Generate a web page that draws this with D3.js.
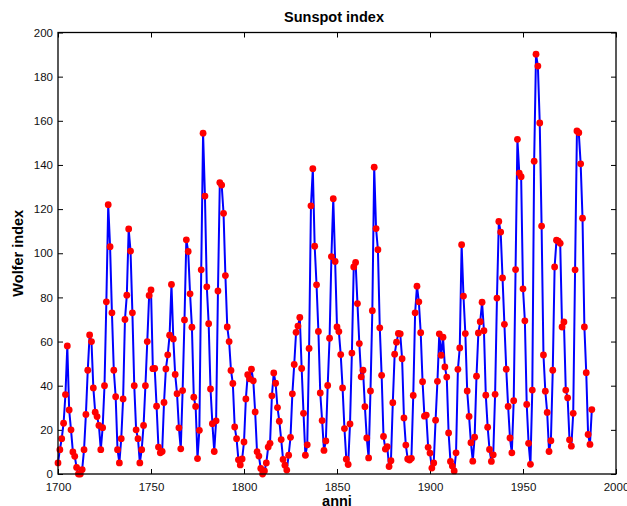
<!DOCTYPE html>
<html>
<head>
<meta charset="utf-8">
<script src="https://cdn.jsdelivr.net/npm/d3@7"></script>
<style>
  html, body { margin: 0; padding: 0; background: #fff; }
  svg { display: block; }
  text { font-family: "Liberation Sans", Arial, Helvetica, sans-serif; }
</style>
</head>
<body>
<svg id="chart" width="627" height="506"></svg>
<script>
// Yearly Wolfer sunspot numbers, 1700-1987
const startYear = 1700;
const wolfer = [
  5, 11, 16, 23, 36, 58, 29, 20, 10, 8,
  3, 0, 0, 2, 11, 27, 47, 63, 60, 39,
  28, 26, 22, 11, 21, 40, 78, 122, 103, 73,
  47, 35, 11, 5, 16, 34, 70, 81, 111, 101,
  73, 40, 20, 16, 5, 11, 22, 40, 60, 80.9,
  83.4, 47.7, 47.8, 30.7, 12.2, 9.6, 10.2, 32.4, 47.6, 54.0,
  62.9, 85.9, 61.2, 45.1, 36.4, 20.9, 11.4, 37.8, 69.8, 106.1,
  100.8, 81.6, 66.5, 34.8, 30.6, 7.0, 19.8, 92.5, 154.4, 125.9,
  84.8, 68.1, 38.5, 22.8, 10.2, 24.1, 82.9, 132.0, 130.9, 118.1,
  89.9, 66.6, 60.0, 46.9, 41.0, 21.3, 16.0, 6.4, 4.1, 6.8,
  14.5, 34.0, 45.0, 43.1, 47.5, 42.2, 28.1, 10.1, 8.1, 2.5,
  0.0, 1.4, 5.0, 12.2, 13.9, 35.4, 45.8, 41.1, 30.1, 23.9,
  15.6, 6.6, 4.0, 1.8, 8.5, 16.6, 36.3, 49.6, 64.2, 67.0,
  70.9, 47.8, 27.5, 8.5, 13.2, 56.9, 121.5, 138.3, 103.2, 85.7,
  64.6, 36.7, 24.2, 10.7, 15.0, 40.1, 61.5, 98.5, 124.7, 96.3,
  66.6, 64.5, 54.1, 39.0, 20.6, 6.7, 4.3, 22.7, 54.8, 93.8,
  95.8, 77.2, 59.1, 44.0, 47.0, 30.5, 16.3, 7.3, 37.6, 74.0,
  139.0, 111.2, 101.6, 66.2, 44.7, 17.0, 11.3, 12.4, 3.4, 6.0,
  32.3, 54.3, 59.7, 63.7, 63.5, 52.2, 25.4, 13.1, 6.8, 6.3,
  7.1, 35.6, 73.0, 85.1, 78.0, 64.0, 41.8, 26.2, 26.7, 12.1,
  9.5, 2.7, 5.0, 24.4, 42.0, 63.5, 53.8, 62.0, 48.5, 43.9,
  18.6, 5.7, 3.6, 1.4, 9.6, 47.4, 57.1, 103.9, 80.6, 63.6,
  37.6, 26.1, 14.2, 5.8, 16.7, 44.3, 63.9, 69.0, 77.8, 64.9,
  35.7, 21.2, 11.1, 5.7, 8.7, 36.1, 79.7, 114.4, 109.6, 88.8,
  67.8, 47.5, 30.6, 16.3, 9.6, 33.2, 92.6, 151.6, 136.3, 134.7,
  83.9, 69.4, 31.5, 13.9, 4.4, 38.0, 141.7, 190.2, 184.8, 159.0,
  112.3, 53.9, 37.5, 27.9, 10.2, 15.1, 47.0, 93.8, 105.9, 105.5,
  104.5, 66.6, 68.9, 38.0, 34.5, 15.5, 12.6, 27.5, 92.5, 155.4,
  154.6, 140.5, 115.9, 66.6, 45.9, 17.9, 13.4, 29.2
];
const years = wolfer.map((_, i) => startYear + i);

const xTicks = [1700, 1750, 1800, 1850, 1900, 1950, 2000];
const yTicks = [0, 20, 40, 60, 80, 100, 120, 140, 160, 180, 200];

const titleText = "Sunspot index";
const xLabel = "anni";
const yLabel = "Wolfer index";

const svg = d3.select("#chart");
const plot = { left: 58, right: 616, top: 32.5, bottom: 474 };

const x = d3.scaleLinear().domain([1700, 2000]).range([plot.left, plot.right]);
const y = d3.scaleLinear().domain([0, 200]).range([plot.bottom, plot.top]);

// Inward ticks on all four sides, MATLAB style
const tickLen = 5;
const gB = svg.append("g").attr("transform", `translate(0,${plot.bottom})`)
  .call(d3.axisBottom(x).tickValues(xTicks).tickSizeInner(-tickLen).tickSizeOuter(0).tickPadding(9).tickFormat(d3.format("d")));
const gT = svg.append("g").attr("transform", `translate(0,${plot.top})`)
  .call(d3.axisTop(x).tickValues(xTicks).tickSizeInner(-tickLen).tickSizeOuter(0).tickFormat(""));
const gL = svg.append("g").attr("transform", `translate(${plot.left},0)`)
  .call(d3.axisLeft(y).tickValues(yTicks).tickSizeInner(-tickLen).tickSizeOuter(0).tickPadding(5));
const gR = svg.append("g").attr("transform", `translate(${plot.right},0)`)
  .call(d3.axisRight(y).tickValues(yTicks).tickSizeInner(-tickLen).tickSizeOuter(0).tickFormat(""));

[gB, gT, gL, gR].forEach(g => {
  g.select(".domain").remove();
  g.selectAll(".tick line").attr("stroke", "#000").attr("stroke-width", 1);
  g.selectAll(".tick text").attr("fill", "#111").style("font-size", "11.5px")
    .style("font-family", "'Liberation Sans', Arial, sans-serif");
});

// Series line and markers
const line = d3.line().x((d, i) => x(years[i])).y(d => y(d));
svg.append("path")
  .datum(wolfer)
  .attr("d", line)
  .attr("fill", "none")
  .attr("stroke", "#0000ff")
  .attr("stroke-width", 2)
  .attr("stroke-linejoin", "round");

svg.append("g").selectAll("circle")
  .data(wolfer)
  .join("circle")
  .attr("cx", (d, i) => x(years[i]))
  .attr("cy", d => y(d))
  .attr("r", 3.4)
  .attr("fill", "#ff0000");

// Axes box
svg.append("rect")
  .attr("x", plot.left).attr("y", plot.top)
  .attr("width", plot.right - plot.left).attr("height", plot.bottom - plot.top)
  .attr("fill", "none").attr("stroke", "#000").attr("stroke-width", 1.3);

// Labels
svg.append("text")
  .attr("x", 334).attr("y", 22)
  .attr("text-anchor", "middle")
  .style("font-weight", "bold").style("font-size", "14.5px")
  .text(titleText);

svg.append("text")
  .attr("x", 337).attr("y", 506)
  .attr("text-anchor", "middle")
  .style("font-weight", "bold").style("font-size", "14.5px")
  .text(xLabel);

svg.append("text")
  .attr("transform", `translate(23,${(plot.top + plot.bottom) / 2}) rotate(-90)`)
  .attr("text-anchor", "middle")
  .style("font-weight", "bold").style("font-size", "14.5px")
  .text(yLabel);
</script>
</body>
</html>
